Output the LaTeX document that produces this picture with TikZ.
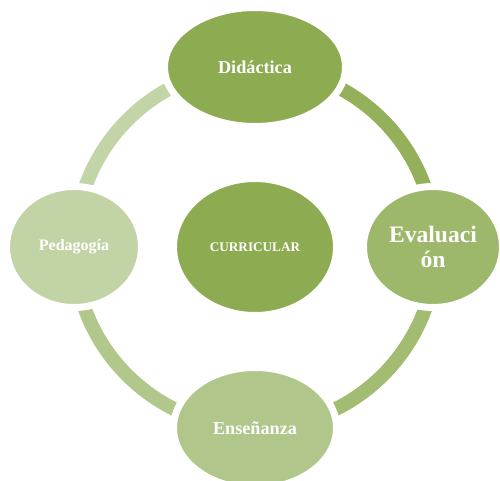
\documentclass[tikz,border=0pt]{standalone}
\usepackage{fontspec}
\setmainfont{Liberation Serif}
\usetikzlibrary{shapes.geometric, backgrounds}
\definecolor{verdeA}{HTML}{8DAB51}
\definecolor{verdeB}{HTML}{9DB86A}
\definecolor{verdeC}{HTML}{B0C68A}
\definecolor{verdeD}{HTML}{C2D3A6}
\definecolor{arcoA}{HTML}{94B05B}
\definecolor{arcoB}{HTML}{A2BC72}
\definecolor{arcoC}{HTML}{B2C78C}
\definecolor{arcoD}{HTML}{C3D4A7}

\begin{document}
\begin{tikzpicture}
                        [
                            x=1pt, y=-1pt,
                            bubble/.style = {draw=white, shape=ellipse, line width=7pt, inner sep=0pt, text=white, align=center},
                            ring/.style = {line width=14pt},
                        ]
                        \useasboundingbox (0,0) rectangle (500,481);

                        \node[bubble, fill=verdeA, minimum width=163, minimum height=137, font=\bfseries\fontsize{13.2}{15}\selectfont] (cur) at (255,247) {CURRICULAR};

                        \node[bubble, fill=verdeA, minimum width=181, minimum height=119, font=\bfseries\fontsize{18.2}{20}\selectfont] (did) at (255,67) {Didáctica};
                        \node[bubble, fill=verdeB, minimum width=139, minimum height=121, font=\bfseries\fontsize{23.6}{25}\selectfont] (eva) at (433,247) {Evaluaci\\ón};
                        \node[bubble, fill=verdeC, minimum width=163, minimum height=121, font=\bfseries\fontsize{18.2}{20}\selectfont] (ens) at (255,428) {Enseñanza};
                        \node[bubble, fill=verdeD, minimum width=135, minimum height=121, font=\bfseries\fontsize{16}{18}\selectfont] (ped) at (74,247) {Pedagogía};

                        \begin{scope}[on background layer]
                            \draw [ring, draw=arcoA] (did.center) arc[start angle=90, end angle=0, radius=180pt];
                            \draw [ring, draw=arcoB] (ens.center) arc[start angle=270, end angle=360, radius=181pt];
                            \draw [ring, draw=arcoC] (ens.center) arc[start angle=270, end angle=180, radius=181pt];
                            \draw [ring, draw=arcoD] (did.center) arc[start angle=90, end angle=180, radius=180pt];
                        \end{scope}

                    \end{tikzpicture}
\end{document}
